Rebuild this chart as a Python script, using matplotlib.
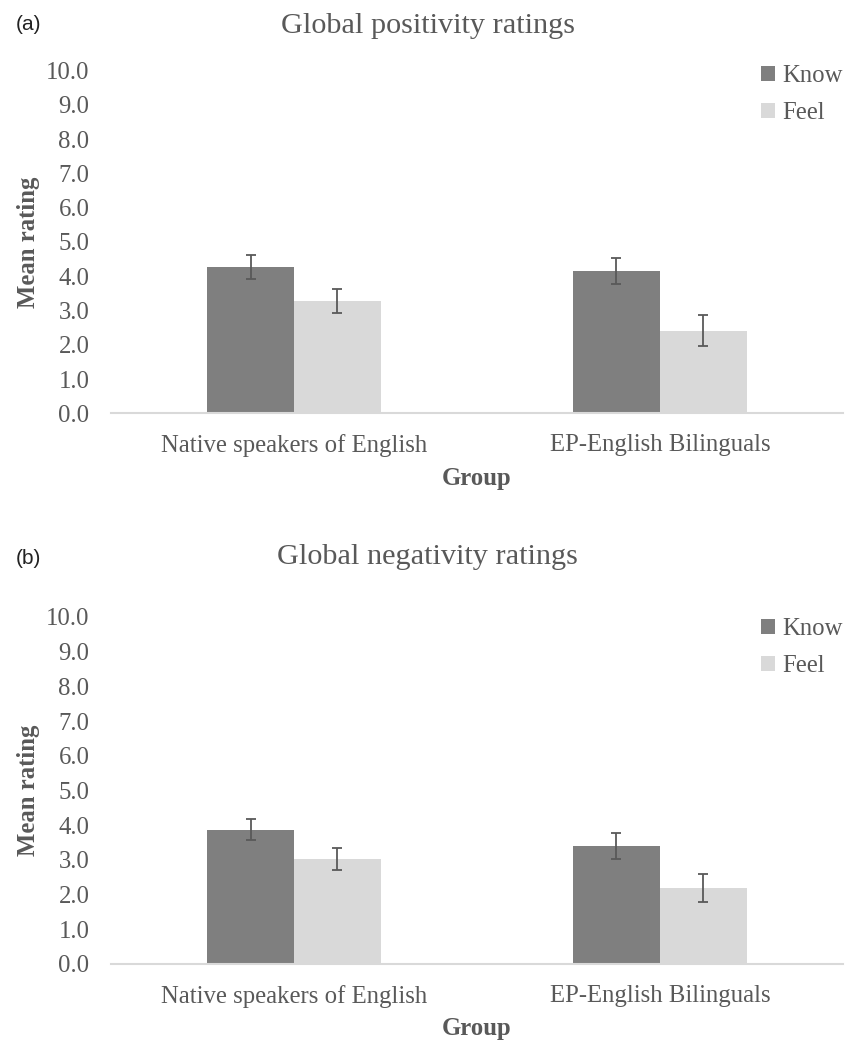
import numpy as np
import matplotlib.pyplot as plt

groups = ['Native speakers of English', 'EP-English Bilinguals']
series = ['Know', 'Feel']

pos_know = [4.27, 4.15]
pos_know_err = [0.34, 0.39]
pos_feel = [3.28, 2.41]
pos_feel_err = [0.35, 0.45]

neg_know = [3.87, 3.40]
neg_know_err = [0.30, 0.37]
neg_feel = [3.02, 2.18]
neg_feel_err = [0.32, 0.40]

yticks = np.arange(0, 11, 1)

know_color = '#7f7f7f'
feel_color = '#d9d9d9'
text_color = '#595959'
serif = ['Liberation Serif', 'DejaVu Serif']
fs = 17.8


def draw_panel(ax, know, know_err, feel, feel_err, title, title_pad, leg_y):
    x = np.arange(len(groups))
    w = 0.237
    ax.bar(x - w / 2, know, w, color=know_color, label=series[0])
    ax.bar(x + w / 2, feel, w, color=feel_color, label=series[1])
    ax.errorbar(x - w / 2, know, yerr=know_err, fmt='none', ecolor=text_color,
                elinewidth=1.3, capsize=3.6, capthick=1.3)
    ax.errorbar(x + w / 2, feel, yerr=feel_err, fmt='none', ecolor=text_color,
                elinewidth=1.3, capsize=3.6, capthick=1.3)
    ax.set_xlim(-0.5, 1.5)
    ax.set_ylim(0, 10)
    ax.set_yticks(yticks)
    ax.set_yticklabels([f'{v:.1f}' for v in yticks], family=serif,
                       fontsize=fs, color=text_color)
    ax.set_xticks(x)
    ax.set_xticklabels(groups, family=serif, fontsize=fs, color=text_color)
    ax.tick_params(length=0)
    ax.tick_params(axis='x', pad=15)
    ax.tick_params(axis='y', pad=15.5)
    for s in ['top', 'right', 'left']:
        ax.spines[s].set_visible(False)
    ax.spines['bottom'].set_color('#d9d9d9')
    ax.spines['bottom'].set_linewidth(1.5)
    ax.set_ylabel('Mean rating', family=serif, fontsize=fs, fontweight='bold',
                  color=text_color)
    ax.yaxis.set_label_coords(-0.097, 0.5)
    ax.set_xlabel('Group', family=serif, fontsize=fs, fontweight='bold',
                  color=text_color, labelpad=7)
    ax.set_title(title, family=serif, fontsize=21.8, color=text_color,
                 pad=title_pad, x=0.433)
    leg = ax.legend(loc='upper right', bbox_to_anchor=(1.03, leg_y), frameon=False,
                    handlelength=0.55, handleheight=0.55, handletextpad=0.3,
                    labelspacing=0.6, prop={'family': serif, 'size': fs})
    for t in leg.get_texts():
        t.set_color(text_color)


fig = plt.figure(figsize=(8.6, 10.42), dpi=100)
ax1 = fig.add_axes([0.129, 0.6032, 0.851, 0.3292])
ax2 = fig.add_axes([0.129, 0.0749, 0.851, 0.333])

draw_panel(ax1, pos_know, pos_know_err, pos_feel, pos_feel_err,
           'Global positivity ratings', 27, 1.08)
draw_panel(ax2, neg_know, neg_know_err, neg_feel, neg_feel_err,
           'Global negativity ratings', 38, 1.06)

tag_font = ['Liberation Sans', 'DejaVu Sans']
fig.text(16 / 860, 1 - 24 / 1042, '(a)', fontsize=15, family=tag_font,
         color='#222222', va='center')
fig.text(16 / 860, 1 - 559 / 1042, '(b)', fontsize=15, family=tag_font,
         color='#222222', va='center')

fig.savefig('out.png', dpi=100, facecolor='white')
